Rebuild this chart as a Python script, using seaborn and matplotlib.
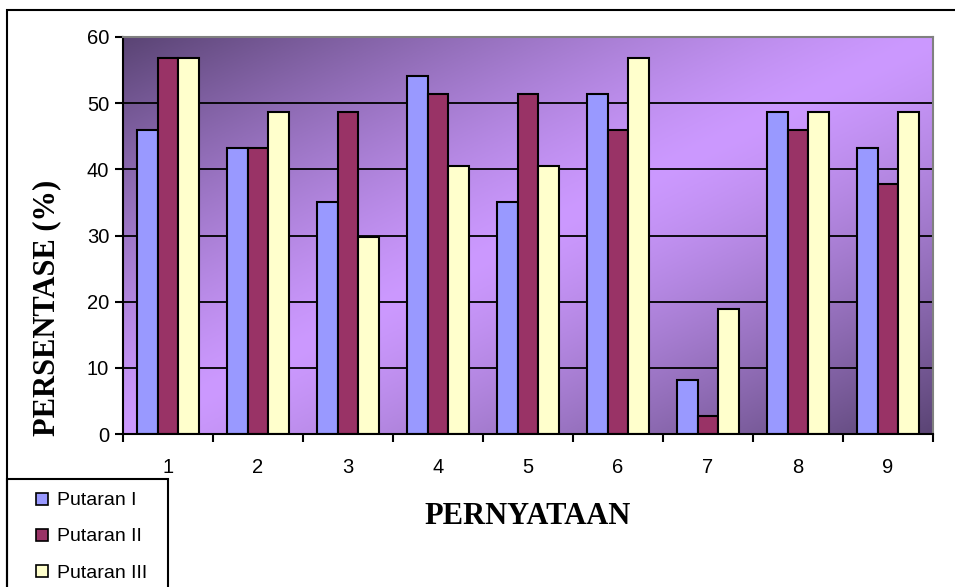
import numpy as np
import pandas as pd
import matplotlib
matplotlib.use("Agg")
import matplotlib.pyplot as plt
import seaborn as sns
from matplotlib.lines import Line2D
from matplotlib.patches import Rectangle
from matplotlib.colors import to_rgb

# ---- data ----
categories = ["1", "2", "3", "4", "5", "6", "7", "8", "9"]
putaran_1 = [45.9, 43.2, 35.1, 54.1, 35.1, 51.4, 8.1, 48.6, 43.2]
putaran_2 = [56.8, 43.2, 48.6, 51.4, 51.4, 45.9, 2.7, 45.9, 37.8]
putaran_3 = [56.8, 48.6, 29.7, 40.5, 40.5, 56.8, 18.9, 48.6, 48.6]
series_names = ["Putaran I", "Putaran II", "Putaran III"]
series_colors = ["#9999ff", "#993366", "#ffffcc"]
y_ticks = [0, 10, 20, 30, 40, 50, 60]

rows = []
for name, vals in zip(series_names, [putaran_1, putaran_2, putaran_3]):
    for c, v in zip(categories, vals):
        rows.append({"Pernyataan": c, "Persentase": v, "Putaran": name})
df = pd.DataFrame(rows)

sns.set_theme(style="white")
plt.rcParams["font.family"] = ["Liberation Sans", "DejaVu Sans"]
plt.rcParams["text.color"] = "black"
plt.rcParams["axes.labelcolor"] = "black"
plt.rcParams["xtick.color"] = "black"
plt.rcParams["ytick.color"] = "black"

W, H = 955, 587
fig = plt.figure(figsize=(W / 100, H / 100), dpi=100)
ax = fig.add_axes([123 / W, 1 - 434 / H, (933 - 123) / W, (434 - 37) / H])

# gradient background
nx, ny = 400, 200
u = np.linspace(0, 1, nx)[None, :]
v = np.linspace(1, 0, ny)[:, None]
s = np.abs(u - v)
f = np.clip(s, 0, 1) ** 1.3
light = np.array(to_rgb("#cc99ff"))
dark = np.array(to_rgb("#5a4474"))
img = light[None, None, :] * (1 - f[..., None]) + dark[None, None, :] * f[..., None]
ax.imshow(img, extent=[0, 1, 0, 1], transform=ax.transAxes, aspect="auto", zorder=0)

# grid lines
for yv in y_ticks[1:-1]:
    ax.axhline(yv, color="black", lw=1.3, zorder=1)

sns.barplot(data=df, x="Pernyataan", y="Persentase", hue="Putaran",
            order=categories, hue_order=series_names,
            palette=series_colors, saturation=1, width=0.69,
            edgecolor="black", linewidth=1.5, ax=ax, legend=False, zorder=2)

ax.set_xlim(-0.5, 8.5)
ax.set_ylim(0, 60)
ax.set_yticks(y_ticks)
ax.set_yticklabels([str(t) for t in y_ticks], fontsize=14.5, color="black")
ax.set_xticks(np.arange(-0.5, 9.0, 1.0))
ax.set_xticklabels([])
ax.set_xticks(range(len(categories)), minor=True)
ax.set_xticklabels(categories, minor=True, fontsize=14.5, color="black")
ax.tick_params(axis="x", which="major", direction="out", length=6, width=1.5, color="black", bottom=True)
ax.tick_params(axis="x", which="minor", length=0, pad=17, bottom=True, labelcolor="black")
ax.tick_params(axis="y", direction="out", length=6, width=1.5, color="black", pad=4, left=True,
               labelcolor="black")

for side in ["left", "bottom"]:
    ax.spines[side].set_color("black")
    ax.spines[side].set_linewidth(1.5)
for side in ["top", "right"]:
    ax.spines[side].set_color("#808080")
    ax.spines[side].set_linewidth(1.5)
    ax.spines[side].set_visible(True)

ax.set_xlabel("")
ax.set_ylabel("")
fig.text(47 / W, 1 - 308 / H, "PERSENTASE (%)", rotation=90, ha="center", va="center",
         fontsize=22, fontweight="bold", color="black", family=["Liberation Serif", "DejaVu Serif"])
fig.text(528 / W, 1 - 517 / H, "PERNYATAAN", ha="center", va="center",
         fontsize=22, fontweight="bold", color="black", family=["Liberation Serif", "DejaVu Serif"])

# outer border
fig.patches.append(Rectangle((7 / W, -0.1), 1.2, 0.1 + (1 - 10 / H), transform=fig.transFigure,
                             fill=False, edgecolor="black", lw=1.5, clip_on=False))
# legend box
fig.patches.append(Rectangle((7 / W, -0.1), (168 - 7) / W, 0.1 + (1 - 479 / H), transform=fig.transFigure,
                             fill=False, edgecolor="black", lw=1.5, clip_on=False, zorder=5))

handles = [Line2D([], [], marker="s", ls="none", ms=8.5, mfc=c, mec="black", mew=1.2)
           for c in series_colors]
leg = fig.legend(handles, series_names, loc="upper left", bbox_to_anchor=(24.5 / W, 1 - 484 / H),
                 bbox_transform=fig.transFigure, frameon=False, fontsize=14, handlelength=1.0,
                 handletextpad=0.27, borderpad=0.4, borderaxespad=0, labelspacing=0.95)
for t in leg.get_texts():
    t.set_color("black")

fig.savefig("out.png", dpi=100)
